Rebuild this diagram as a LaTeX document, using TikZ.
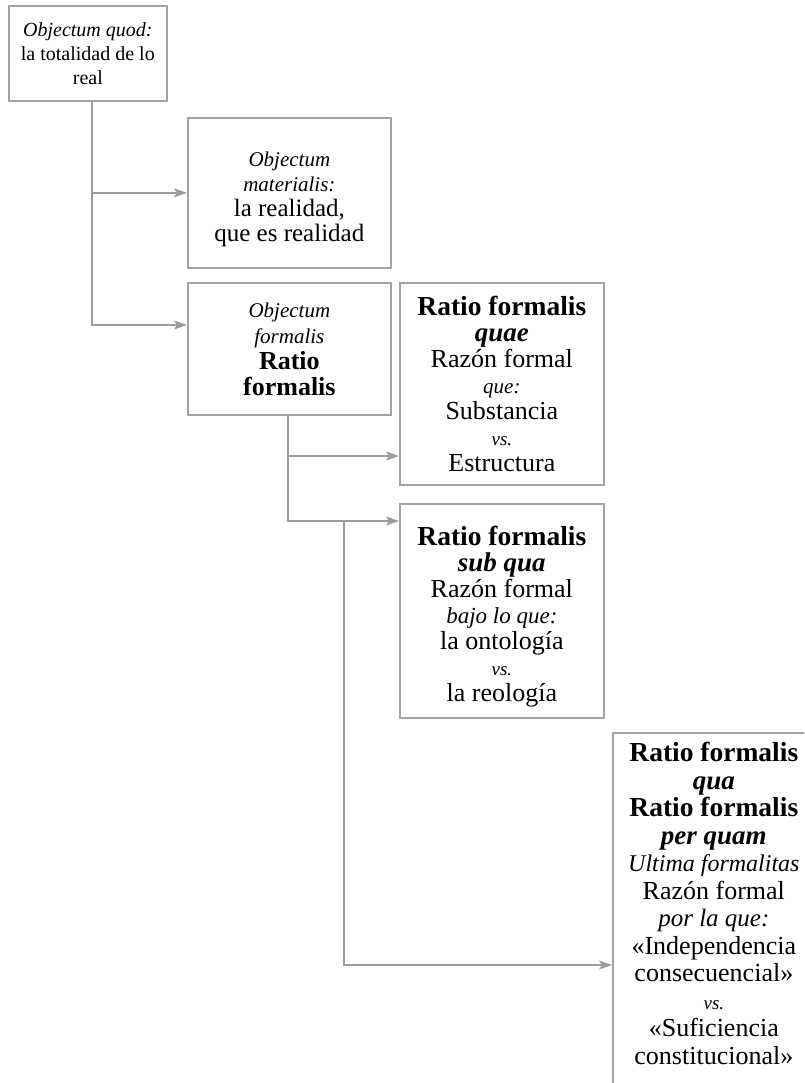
\documentclass[tikz,border=0pt]{standalone}
\usepackage{fontspec}
\setmainfont{Liberation Serif}
\usetikzlibrary{arrows.meta}
\definecolor{linegray}{HTML}{9C9C9C}
\definecolor{boxgray}{HTML}{A4A4A4}
\newcommand\fsz[2]{\fontsize{#1}{#2}\selectfont}
\newcommand\Bx[1]{{\fsz{27.5}{27.5}\bfseries #1}}
\newcommand\BIx[1]{{\fsz{27}{27}\bfseries\itshape #1}}
\newcommand\Bs[1]{{\fsz{26}{26}\bfseries #1}}
\newcommand\Ix[2]{{\fsz{#1}{#1}\itshape #2}}
\begin{document}
\begin{tikzpicture}[x=1pt,y=-1pt,
  box/.style={draw=boxgray, line width=1.7pt, inner sep=0pt, anchor=north west,
              align=center, text=black},
  conn/.style={draw=linegray, line width=1.7pt},
  arr/.style={conn, -{Stealth[length=13pt,width=9pt,inset=3pt]}}]
\useasboundingbox (0,0) rectangle (804,1083);
\clip (0,0) rectangle (804,1083);

% boxes
\node[box, minimum width=158pt, minimum height=95pt, font=\fsz{20}{24}] (b1) at (8,5)
  {\Ix{20}{Objectum quod:}\\ la totalidad de lo\\ real};
\node[box, minimum width=203pt, minimum height=150pt, font=\fsz{25}{25}] (b2) at (187,117)
  {\rule{0pt}{27pt}\Ix{21}{Objectum}\\ \Ix{21}{materialis:}\\ la realidad,\\ que es realidad};
\node[box, minimum width=203pt, minimum height=132pt, font=\fsz{26}{26}] (b3) at (187,282)
  {\Ix{21}{Objectum}\\ \Ix{21}{formalis}\\ \Bs{Ratio}\\ \Bs{formalis}};
\node[box, minimum width=204pt, minimum height=202pt, font=\fsz{26}{26}] (b4) at (399,282)
  {\Bx{Ratio formalis}\\ \BIx{quae}\\ Razón formal\\ \Ix{21}{que:}\\ Substancia\\ \Ix{19}{vs.}\\ Estructura};
\node[box, minimum width=204pt, minimum height=214pt, font=\fsz{26}{26}] (b5) at (399,503)
  {\rule{0pt}{30pt}\Bx{Ratio formalis}\\ \BIx{sub qua}\\ Razón formal\\ \Ix{23}{bajo lo que:}\\ la ontología\\ \Ix{19}{vs.}\\ la reología};
\node[box, minimum width=202pt, minimum height=400pt] (b6) at (612,732) {};
\node[inner sep=0pt, anchor=north, align=center, font=\fsz{26}{27.5}] (t6) at ([yshift=-10pt]b6.north)
  {\Bx{Ratio formalis}\\ \BIx{qua}\\ \Bx{Ratio formalis}\\ \BIx{per quam}\\
   \Ix{24}{Ultima formalitas}\\ Razón formal\\ \Ix{25}{por la que:}\\
   «Independencia\\ consecuencial»\\ \Ix{19}{vs.}\\ «Suficiencia\\ constitucional»};

% junction coordinates
\coordinate (a1) at (92,325);
\coordinate (a2) at (288,456);
\coordinate (a3) at (288,521);
\coordinate (a4) at (344,521);
\coordinate (a5) at (344,965);

% connectors
\draw[arr] (b1.south -| a1) -- (a1) -- (a1 -| b3.west);
\draw[arr] (b2.west -| a1) -- (b2.west);
\draw[arr] (b3.south -| a2) -- (a3) -- (a3 -| b5.west);
\draw[arr] (a2) -- (a2 -| b4.west);
\draw[arr] (a4) -- (a5) -- (a5 -| b6.west);
\end{tikzpicture}
\end{document}
